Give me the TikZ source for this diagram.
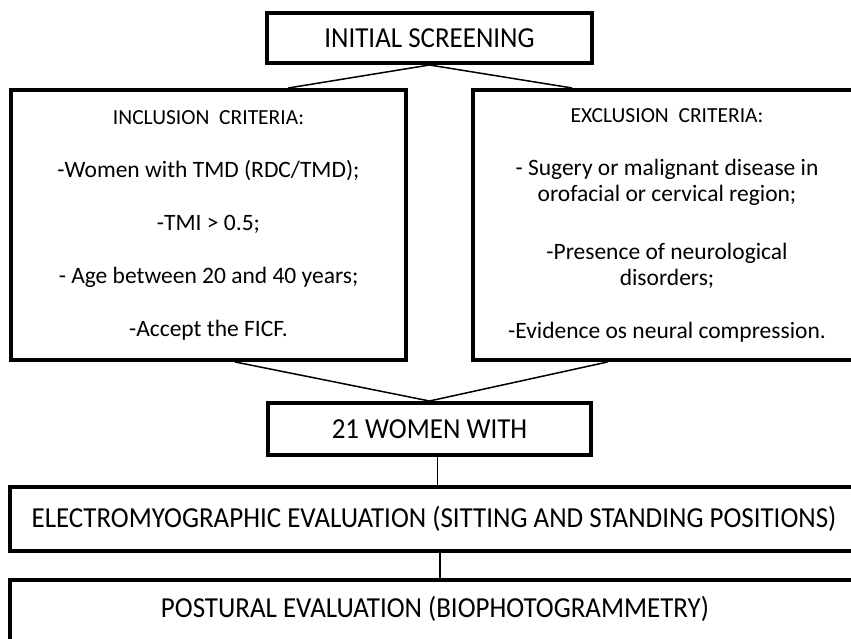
\documentclass[tikz,border=0pt]{standalone}
\usepackage{fontspec}
\setmainfont{Carlito}
\newfontfamily\headfont[FakeStretch=0.93]{Carlito}
\usetikzlibrary{calc}
\begin{document}
\begin{tikzpicture}[x=1pt,y=-1pt,
  box/.style={draw=black, line width=4pt, fill=white, inner sep=0pt, align=center},
  head/.style={font=\headfont\fontsize{29}{34}\selectfont},
  crit/.style={font=\fontsize{23.5}{26}\selectfont},
  link/.style={draw=black, line width=1.5pt}]
\clip (0,0) rectangle (851,639);
\fill[white] (0,0) rectangle (851,639);
\node[box, head, minimum width=325, minimum height=50] (init) at (429.5,38) {INITIAL SCREENING};
\node[box, crit, minimum width=395, minimum height=270] (inc) at (208.5,225)
  {{\fontsize{21.5}{26}\selectfont INCLUSION\ \ CRITERIA:}\\[27pt]
   -Women with TMD (RDC/TMD);\\[27pt]
   -TMI > 0.5;\\[27pt]
   - Age between 20 and 40 years;\\[27pt]
   -Accept the FICF.};
\node[box, crit, minimum width=388, minimum height=270] (exc) at (667,225)
  {{\fontsize{21.5}{26}\selectfont EXCLUSION\ \ CRITERIA:}\\[27pt]
   - Sugery or malignant disease in\\
   orofacial or cervical region;\\[32pt]
   -Presence of neurological\\
   disorders;\\[27pt]
   -Evidence os neural compression.};
\node[box, head, minimum width=323, minimum height=52] (women) at (429.5,429) {21 WOMEN WITH};
\node[box, head, minimum width=848, minimum height=64] (emg) at (434,519)
  {ELECTROMYOGRAPHIC EVALUATION (SITTING AND STANDING POSITIONS)};
\node[box, head, minimum width=850, minimum height=64, text depth=11pt] (post) at (435,612)
  {POSTURAL EVALUATION (BIOPHOTOGRAMMETRY)};
\coordinate (incT) at ($(inc.north west)!0.70!(inc.north east)$);
\coordinate (excT) at ($(exc.north west)!0.258!(exc.north east)$);
\coordinate (incB) at ($(inc.south west)!0.567!(inc.south east)$);
\coordinate (excB) at ($(exc.south west)!0.348!(exc.south east)$);
\draw[link] (init.south) -- (incT);
\draw[link] (init.south) -- (excT);
\draw[link] (incB) -- (women.north);
\draw[link] (excB) -- (women.north);
\draw[link] ([xshift=8pt]women.south) -- ([xshift=8pt]women.south |- emg.north);
\draw[link] ([xshift=6pt]emg.south) -- ([xshift=6pt]emg.south |- post.north);
\end{tikzpicture}
\end{document}
